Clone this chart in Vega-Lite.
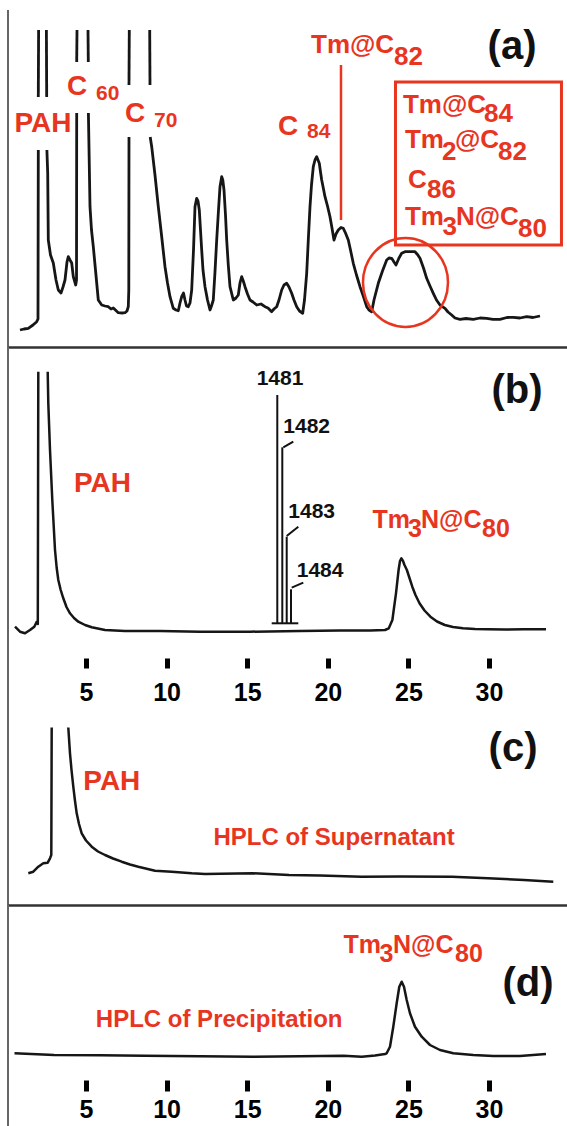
{
"$schema": "https://vega.github.io/schema/vega-lite/v6.json",
"padding": {"left": 7, "top": 9, "right": 0, "bottom": 0},
"spacing": 0,
"bounds": "flush",
"background": "white",
"config": {"view": {"stroke": null}, "axis": {"grid": false}},
"datasets": {
"a_trace": [
{"seg":1,"t":0.906,"v":17},{"seg":1,"t":1.154,"v":18},{"seg":1,"t":1.421,"v":18.7},{"seg":1,"t":1.712,"v":22},{"seg":1,"t":1.942,"v":25.3},{"seg":1,"t":2.022,"v":28},{"seg":1,"t":2.041,"v":197},
{"seg":2,"t":2.041,"v":250},{"seg":2,"t":2.060,"v":317},
{"seg":3,"t":2.543,"v":317},{"seg":3,"t":2.562,"v":250},
{"seg":4,"t":2.574,"v":197},{"seg":4,"t":2.624,"v":174},{"seg":4,"t":2.661,"v":107},{"seg":4,"t":2.798,"v":92},{"seg":4,"t":2.971,"v":84},{"seg":4,"t":3.139,"v":67},{"seg":4,"t":3.282,"v":57},{"seg":4,"t":3.449,"v":54},{"seg":4,"t":3.573,"v":60},{"seg":4,"t":3.697,"v":67},{"seg":4,"t":3.821,"v":85},{"seg":4,"t":3.902,"v":90.3},{"seg":4,"t":4.007,"v":87},{"seg":4,"t":4.113,"v":84},{"seg":4,"t":4.212,"v":70.3},{"seg":4,"t":4.361,"v":62},{"seg":4,"t":4.411,"v":67},{"seg":4,"t":4.423,"v":234},
{"seg":5,"t":4.423,"v":285},{"seg":5,"t":4.442,"v":317},
{"seg":6,"t":5.124,"v":317},{"seg":6,"t":5.143,"v":285},
{"seg":7,"t":5.149,"v":234},{"seg":7,"t":5.248,"v":140.3},{"seg":7,"t":5.341,"v":117},{"seg":7,"t":5.453,"v":100.3},{"seg":7,"t":5.589,"v":77},{"seg":7,"t":5.763,"v":47},{"seg":7,"t":5.974,"v":42},{"seg":7,"t":6.179,"v":41},{"seg":7,"t":6.383,"v":40.3},{"seg":7,"t":6.551,"v":38},{"seg":7,"t":6.694,"v":39},{"seg":7,"t":7.004,"v":34.3},{"seg":7,"t":7.233,"v":34},{"seg":7,"t":7.419,"v":34.3},{"seg":7,"t":7.543,"v":36},{"seg":7,"t":7.624,"v":40.3},{"seg":7,"t":7.655,"v":57},{"seg":7,"t":7.667,"v":210},
{"seg":8,"t":7.667,"v":262},{"seg":8,"t":7.686,"v":317},
{"seg":9,"t":8.952,"v":317},{"seg":9,"t":8.970,"v":262},
{"seg":10,"t":8.983,"v":210},{"seg":10,"t":9.076,"v":200.3},{"seg":10,"t":9.280,"v":172},{"seg":10,"t":9.485,"v":140.3},{"seg":10,"t":9.684,"v":112},{"seg":10,"t":9.901,"v":80.3},{"seg":10,"t":10.056,"v":64},{"seg":10,"t":10.211,"v":50.3},{"seg":10,"t":10.415,"v":38.7},{"seg":10,"t":10.583,"v":37},{"seg":10,"t":10.726,"v":36.3},{"seg":10,"t":10.831,"v":44},{"seg":10,"t":10.937,"v":50.3},{"seg":10,"t":11.048,"v":54},{"seg":10,"t":11.141,"v":47},{"seg":10,"t":11.234,"v":41},{"seg":10,"t":11.346,"v":40.3},{"seg":10,"t":11.452,"v":44},{"seg":10,"t":11.557,"v":57},{"seg":10,"t":11.669,"v":97},{"seg":10,"t":11.762,"v":140.3},{"seg":10,"t":11.867,"v":148.7},{"seg":10,"t":11.948,"v":146},{"seg":10,"t":12.029,"v":137},{"seg":10,"t":12.103,"v":117},{"seg":10,"t":12.177,"v":97},{"seg":10,"t":12.258,"v":77},{"seg":10,"t":12.382,"v":60.3},{"seg":10,"t":12.538,"v":47},{"seg":10,"t":12.692,"v":37},{"seg":10,"t":12.785,"v":41},{"seg":10,"t":12.897,"v":47},{"seg":10,"t":13.002,"v":75},{"seg":10,"t":13.108,"v":107},{"seg":10,"t":13.220,"v":137},{"seg":10,"t":13.313,"v":160.3},{"seg":10,"t":13.418,"v":170.3},{"seg":10,"t":13.486,"v":167},{"seg":10,"t":13.561,"v":157},{"seg":10,"t":13.654,"v":132},{"seg":10,"t":13.728,"v":107},{"seg":10,"t":13.827,"v":82},{"seg":10,"t":13.933,"v":60.3},{"seg":10,"t":14.138,"v":47},{"seg":10,"t":14.306,"v":49},{"seg":10,"t":14.449,"v":52},{"seg":10,"t":14.553,"v":64},{"seg":10,"t":14.659,"v":70.3},{"seg":10,"t":14.758,"v":66},{"seg":10,"t":14.864,"v":60.3},{"seg":10,"t":15.019,"v":53},{"seg":10,"t":15.174,"v":47},{"seg":10,"t":15.360,"v":45},{"seg":10,"t":15.589,"v":42},{"seg":10,"t":15.856,"v":43},{"seg":10,"t":16.104,"v":40.3},{"seg":10,"t":16.290,"v":39},{"seg":10,"t":16.520,"v":35.3},{"seg":10,"t":16.662,"v":38},{"seg":10,"t":16.830,"v":40.3},{"seg":10,"t":16.973,"v":47},{"seg":10,"t":17.140,"v":57},{"seg":10,"t":17.283,"v":62},{"seg":10,"t":17.450,"v":63.7},{"seg":10,"t":17.593,"v":60},{"seg":10,"t":17.760,"v":53.7},{"seg":10,"t":17.903,"v":47},{"seg":10,"t":18.071,"v":40.3},{"seg":10,"t":18.244,"v":36},{"seg":10,"t":18.443,"v":33.7},{"seg":10,"t":18.555,"v":47},{"seg":10,"t":18.691,"v":73.7},{"seg":10,"t":18.791,"v":107},{"seg":10,"t":18.896,"v":140.3},{"seg":10,"t":18.989,"v":162},{"seg":10,"t":19.101,"v":180.3},{"seg":10,"t":19.206,"v":187},{"seg":10,"t":19.312,"v":190.3},{"seg":10,"t":19.392,"v":187},{"seg":10,"t":19.473,"v":183.7},{"seg":10,"t":19.548,"v":175},{"seg":10,"t":19.622,"v":167},{"seg":10,"t":19.721,"v":159},{"seg":10,"t":19.826,"v":150.3},{"seg":10,"t":19.981,"v":141},{"seg":10,"t":20.136,"v":130.3},{"seg":10,"t":20.260,"v":119},{"seg":10,"t":20.385,"v":107},{"seg":10,"t":20.509,"v":113},{"seg":10,"t":20.651,"v":117},{"seg":10,"t":20.819,"v":119.5},{"seg":10,"t":20.961,"v":118.7},{"seg":10,"t":21.098,"v":114},{"seg":10,"t":21.272,"v":107},{"seg":10,"t":21.408,"v":97},{"seg":10,"t":21.582,"v":83.7},{"seg":10,"t":21.780,"v":72},{"seg":10,"t":21.998,"v":60.3},{"seg":10,"t":22.202,"v":51},{"seg":10,"t":22.413,"v":40.3},{"seg":10,"t":22.556,"v":37},{"seg":10,"t":22.723,"v":35.3},{"seg":10,"t":22.866,"v":47},{"seg":10,"t":23.133,"v":63.7},{"seg":10,"t":23.393,"v":76},{"seg":10,"t":23.654,"v":87},{"seg":10,"t":23.796,"v":89},{"seg":10,"t":23.964,"v":88.7},{"seg":10,"t":24.107,"v":85},{"seg":10,"t":24.231,"v":82},{"seg":10,"t":24.417,"v":89},{"seg":10,"t":24.584,"v":93.7},{"seg":10,"t":24.789,"v":95.3},{"seg":10,"t":25.099,"v":95.3},{"seg":10,"t":25.409,"v":95.3},{"seg":10,"t":25.564,"v":92.5},{"seg":10,"t":25.720,"v":88.7},{"seg":10,"t":25.937,"v":79},{"seg":10,"t":26.135,"v":68.7},{"seg":10,"t":26.340,"v":61},{"seg":10,"t":26.545,"v":53.7},{"seg":10,"t":26.743,"v":47},{"seg":10,"t":26.960,"v":42},{"seg":10,"t":27.271,"v":38.7},{"seg":10,"t":27.457,"v":35},{"seg":10,"t":27.686,"v":32},{"seg":10,"t":27.891,"v":29},{"seg":10,"t":28.201,"v":27.7},{"seg":10,"t":28.573,"v":28.5},{"seg":10,"t":29.026,"v":27.7},{"seg":10,"t":29.442,"v":29},{"seg":10,"t":29.857,"v":28.7},{"seg":10,"t":30.248,"v":27.7},{"seg":10,"t":30.682,"v":27.7},{"seg":10,"t":31.117,"v":29.5},{"seg":10,"t":31.507,"v":29.7},{"seg":10,"t":31.923,"v":29},{"seg":10,"t":32.339,"v":30.3},{"seg":10,"t":32.730,"v":29.5},{"seg":10,"t":33.164,"v":31}
],
"b_trace": [
{"seg":1,"t":0.596,"v":83.3},{"seg":1,"t":0.906,"v":78.3},{"seg":1,"t":1.216,"v":76.7},{"seg":1,"t":1.526,"v":80},{"seg":1,"t":1.793,"v":83.3},{"seg":1,"t":1.942,"v":88.3},{"seg":1,"t":2.010,"v":86},{"seg":1,"t":2.041,"v":338.3},
{"seg":2,"t":2.624,"v":338.3},{"seg":2,"t":2.661,"v":306.7},{"seg":2,"t":2.767,"v":260},{"seg":2,"t":2.909,"v":210},{"seg":2,"t":3.077,"v":160},{"seg":2,"t":3.182,"v":142},{"seg":2,"t":3.282,"v":130},{"seg":2,"t":3.431,"v":120},{"seg":2,"t":3.592,"v":111.7},{"seg":2,"t":3.790,"v":103},{"seg":2,"t":4.007,"v":96.7},{"seg":2,"t":4.256,"v":92},{"seg":2,"t":4.522,"v":88.3},{"seg":2,"t":4.938,"v":85},{"seg":2,"t":5.354,"v":82.7},{"seg":2,"t":6.179,"v":80},{"seg":2,"t":7.419,"v":79},{"seg":2,"t":9.591,"v":79},{"seg":2,"t":12.072,"v":78.3},{"seg":2,"t":15.174,"v":78.3},{"seg":2,"t":18.275,"v":79},{"seg":2,"t":20.757,"v":79.5},{"seg":2,"t":22.618,"v":79.5},{"seg":2,"t":23.548,"v":80},{"seg":2,"t":23.784,"v":81.7},{"seg":2,"t":24.007,"v":90},{"seg":2,"t":24.107,"v":102},{"seg":2,"t":24.231,"v":116.7},{"seg":2,"t":24.392,"v":140},{"seg":2,"t":24.479,"v":149},{"seg":2,"t":24.566,"v":151.7},{"seg":2,"t":24.665,"v":149},{"seg":2,"t":24.758,"v":145},{"seg":2,"t":24.907,"v":140},{"seg":2,"t":25.068,"v":132},{"seg":2,"t":25.242,"v":123.3},{"seg":2,"t":25.440,"v":115},{"seg":2,"t":25.689,"v":106.7},{"seg":2,"t":26.000,"v":99.5},{"seg":2,"t":26.365,"v":93.3},{"seg":2,"t":26.774,"v":88.5},{"seg":2,"t":27.258,"v":85},{"seg":2,"t":27.767,"v":83},{"seg":2,"t":28.387,"v":81.7},{"seg":2,"t":29.132,"v":81},{"seg":2,"t":29.938,"v":80.7},{"seg":2,"t":30.993,"v":80.5},{"seg":2,"t":32.171,"v":80.7},{"seg":2,"t":33.536,"v":80.7}
],
"c_trace": [
{"seg":1,"t":1.421,"v":31.7},{"seg":1,"t":1.731,"v":33.3},{"seg":1,"t":2.041,"v":38.3},{"seg":1,"t":2.351,"v":41.7},{"seg":1,"t":2.624,"v":42.3},{"seg":1,"t":2.767,"v":46.7},{"seg":1,"t":2.847,"v":50},{"seg":1,"t":2.872,"v":177.5},
{"seg":2,"t":3.902,"v":177.5},{"seg":2,"t":4.007,"v":151.7},{"seg":2,"t":4.101,"v":135},{"seg":2,"t":4.212,"v":118.3},{"seg":2,"t":4.318,"v":104},{"seg":2,"t":4.423,"v":91.7},{"seg":2,"t":4.566,"v":81},{"seg":2,"t":4.733,"v":71.7},{"seg":2,"t":5.000,"v":64.5},{"seg":2,"t":5.354,"v":58.3},{"seg":2,"t":5.744,"v":53.5},{"seg":2,"t":6.179,"v":50},{"seg":2,"t":6.675,"v":46.5},{"seg":2,"t":7.215,"v":43.3},{"seg":2,"t":7.730,"v":40.5},{"seg":2,"t":8.244,"v":38.3},{"seg":2,"t":9.280,"v":34.3},{"seg":2,"t":10.316,"v":33.3},{"seg":2,"t":11.557,"v":31.7},{"seg":2,"t":12.382,"v":31},{"seg":2,"t":15.360,"v":31.7},{"seg":2,"t":17.593,"v":30},{"seg":2,"t":19.516,"v":29.5},{"seg":2,"t":22.103,"v":28.3},{"seg":2,"t":24.479,"v":28.5},{"seg":2,"t":27.705,"v":28.3},{"seg":2,"t":29.938,"v":26.7},{"seg":2,"t":32.171,"v":25},{"seg":2,"t":33.989,"v":23.3}
],
"d_trace": [
{"t":0.565,"v":72.7},{"t":3.015,"v":71},{"t":5.868,"v":70.7},{"t":8.641,"v":70.3},{"t":12.072,"v":69.7},{"t":15.360,"v":69.3},{"t":18.275,"v":69.7},{"t":20.980,"v":70.3},{"t":22.103,"v":69.3},{"t":22.928,"v":70.5},{"t":23.548,"v":72},{"t":23.654,"v":72.7},{"t":23.859,"v":79.3},{"t":24.063,"v":99.3},{"t":24.274,"v":122.7},{"t":24.436,"v":139.3},{"t":24.584,"v":144.3},{"t":24.727,"v":139.3},{"t":24.895,"v":126},{"t":25.099,"v":112.7},{"t":25.409,"v":99.3},{"t":25.825,"v":89.3},{"t":26.340,"v":81},{"t":26.960,"v":76},{"t":27.786,"v":72.7},{"t":29.026,"v":71},{"t":30.267,"v":70},{"t":31.923,"v":70},{"t":33.536,"v":72}
],
"a_annot": [
{"kind":"line","t":20.819,"t2":20.819,"v":127,"v2":282},
{"kind":"box","t":24.2,"t2":34.497,"v":102,"v2":265},
{"kind":"ring","t":24.82,"t2":24.82,"v":64.5,"v2":64.5}
],
"ms_lines": [
{"t":16.867,"t2":16.867,"v":86.7,"v2":315},
{"t":17.178,"t2":17.178,"v":86.7,"v2":262.7},
{"t":17.451,"t2":17.451,"v":86.7,"v2":173.3},
{"t":17.718,"t2":17.718,"v":86.7,"v2":120.7},
{"t":16.520,"t2":18.170,"v":86.7,"v2":86.7},
{"t":17.240,"t2":17.860,"v":262.7,"v2":268.3},
{"t":17.451,"t2":18.170,"v":174,"v2":183.3},
{"t":17.761,"t2":18.480,"v":122.3,"v2":127.3}
],
"labels": [
{"panel":"a","role":"tag","text":"(a)","t":31.43,"v":300},
{"panel":"a","role":"compound","text":"PAH","t":0.565,"v":215},
{"panel":"a","role":"compound","text":"C","t":3.821,"v":252},
{"panel":"a","role":"index","text":"60","t":5.620,"v":247},
{"panel":"a","role":"compound","text":"C","t":7.419,"v":225},
{"panel":"a","role":"index","text":"70","t":9.218,"v":220},
{"panel":"a","role":"compound","text":"C","t":16.911,"v":212},
{"panel":"a","role":"index","text":"84","t":18.710,"v":209},
{"panel":"a","role":"formula","text":"Tm@C","t":18.958,"v":294},
{"panel":"a","role":"formula","text":"82","t":24.107,"v":282},
{"panel":"a","role":"formula","text":"Tm@C","t":24.665,"v":234},
{"panel":"a","role":"formula","text":"84","t":29.690,"v":225.3},
{"panel":"a","role":"formula","text":"Tm","t":24.789,"v":199},
{"panel":"a","role":"formula","text":"2","t":27.084,"v":187},
{"panel":"a","role":"formula","text":"@C","t":27.891,"v":199},
{"panel":"a","role":"formula","text":"82","t":30.558,"v":187},
{"panel":"a","role":"formula","text":"C","t":24.975,"v":159},
{"panel":"a","role":"formula","text":"86","t":26.154,"v":149},
{"panel":"a","role":"formula","text":"Tm","t":24.789,"v":122},
{"panel":"a","role":"formula","text":"3","t":27.115,"v":112},
{"panel":"a","role":"formula","text":"N@C","t":27.952,"v":122},
{"panel":"a","role":"formula","text":"80","t":31.799,"v":110},
{"panel":"b","role":"tag","text":"(b)","t":31.74,"v":319},
{"panel":"b","role":"compound","text":"PAH","t":4.256,"v":218},
{"panel":"b","role":"formula","text":"Tm","t":22.773,"v":181.7},
{"panel":"b","role":"formula","text":"3","t":24.975,"v":173.3},
{"panel":"b","role":"formula","text":"N@C","t":25.781,"v":181.7},
{"panel":"b","role":"formula","text":"80","t":29.566,"v":173.3},
{"panel":"b","role":"mz","text":"1481","t":15.589,"v":325},
{"panel":"b","role":"mz","text":"1482","t":17.240,"v":276.7},
{"panel":"b","role":"mz","text":"1483","t":17.550,"v":191.7},
{"panel":"b","role":"mz","text":"1484","t":18.071,"v":133.3},
{"panel":"c","role":"tag","text":"(c)","t":31.49,"v":156},
{"panel":"c","role":"compound","text":"PAH","t":4.832,"v":115},
{"panel":"c","role":"caption","text":"HPLC of Supernatant","t":12.903,"v":60},
{"panel":"d","role":"tag","text":"(d)","t":32.42,"v":142},
{"panel":"d","role":"formula","text":"Tm","t":20.980,"v":172.7},
{"panel":"d","role":"formula","text":"3","t":23.207,"v":164.3},
{"panel":"d","role":"formula","text":"N@C","t":24.045,"v":172.7},
{"panel":"d","role":"formula","text":"80","t":27.891,"v":164.3},
{"panel":"d","role":"caption","text":"HPLC of Precipitation","t":5.608,"v":99}
]
},
"vconcat": [
{
"width": 559, "height": 337,
"layer": [
{"data": {"name": "a_trace"}, "mark": {"type": "line", "color": "#161616", "strokeWidth": 2.8, "strokeJoin": "round"},
 "encoding": {
  "x": {"field": "t", "type": "quantitative", "scale": {"domain": [0.161, 34.84], "nice": false, "zero": false}, "axis": {"orient": "top", "domain": true, "domainColor": "#333", "domainWidth": 2.5, "ticks": false, "labels": false, "title": null}},
  "y": {"field": "v", "type": "quantitative", "scale": {"domain": [0, 337], "nice": false, "zero": false}, "axis": null},
  "detail": {"field": "seg", "type": "nominal"}}},
{"data": {"values": [{}]}, "mark": {"type": "rule", "color": "#666", "strokeWidth": 2},
 "encoding": {"x": {"datum": 0.161, "type": "quantitative", "scale": {"domain": [0.161, 34.84], "nice": false, "zero": false}, "axis": null}}},
{"data": {"name": "a_annot"}, "transform": [{"filter": "datum.kind === 'line'"}], "mark": {"type": "rule", "color": "#e8351f", "strokeWidth": 2.5},
 "encoding": {
  "x": {"field": "t", "type": "quantitative", "scale": {"domain": [0.161, 34.84], "nice": false, "zero": false}, "axis": null},
  "y": {"field": "v", "type": "quantitative", "scale": {"domain": [0, 337], "nice": false, "zero": false}, "axis": null},
  "y2": {"field": "v2"}}},
{"data": {"name": "a_annot"}, "transform": [{"filter": "datum.kind === 'box'"}], "mark": {"type": "rect", "fillOpacity": 0, "stroke": "#e8351f", "strokeWidth": 3},
 "encoding": {
  "x": {"field": "t", "type": "quantitative", "scale": {"domain": [0.161, 34.84], "nice": false, "zero": false}, "axis": null},
  "x2": {"field": "t2"},
  "y": {"field": "v", "type": "quantitative", "scale": {"domain": [0, 337], "nice": false, "zero": false}, "axis": null},
  "y2": {"field": "v2"}}},
{"data": {"name": "a_annot"}, "transform": [{"filter": "datum.kind === 'ring'"}], "mark": {"type": "point", "shape": "M -0.955 0 A 0.955 1 0 1 0 0.955 0 A 0.955 1 0 1 0 -0.955 0 Z", "size": 7921, "filled": false, "color": "#e8351f", "strokeWidth": 2.5, "opacity": 1},
 "encoding": {
  "x": {"field": "t", "type": "quantitative", "scale": {"domain": [0.161, 34.84], "nice": false, "zero": false}, "axis": null},
  "y": {"field": "v", "type": "quantitative", "scale": {"domain": [0, 337], "nice": false, "zero": false}, "axis": null}}},
{"data": {"name": "labels"}, "transform": [{"filter": "datum.panel === 'a' && datum.role === 'tag'"}], "mark": {"type": "text", "align": "center", "baseline": "middle", "font": "Liberation Sans", "fontWeight": "bold", "fontSize": 40, "color": "#111"},
 "encoding": {
  "x": {"field": "t", "type": "quantitative", "scale": {"domain": [0.161, 34.84], "nice": false, "zero": false}, "axis": null},
  "y": {"field": "v", "type": "quantitative", "scale": {"domain": [0, 337], "nice": false, "zero": false}, "axis": null},
  "text": {"field": "text"}}},
{"data": {"name": "labels"}, "transform": [{"filter": "datum.panel === 'a' && datum.role === 'compound'"}], "mark": {"type": "text", "align": "left", "baseline": "alphabetic", "font": "Liberation Sans", "fontWeight": "bold", "fontSize": 28, "color": "#e8351f"},
 "encoding": {
  "x": {"field": "t", "type": "quantitative", "scale": {"domain": [0.161, 34.84], "nice": false, "zero": false}, "axis": null},
  "y": {"field": "v", "type": "quantitative", "scale": {"domain": [0, 337], "nice": false, "zero": false}, "axis": null},
  "text": {"field": "text"}}},
{"data": {"name": "labels"}, "transform": [{"filter": "datum.panel === 'a' && datum.role === 'index'"}], "mark": {"type": "text", "align": "left", "baseline": "alphabetic", "font": "Liberation Sans", "fontWeight": "bold", "fontSize": 21, "letterSpacing": 1.5, "color": "#e8351f"},
 "encoding": {
  "x": {"field": "t", "type": "quantitative", "scale": {"domain": [0.161, 34.84], "nice": false, "zero": false}, "axis": null},
  "y": {"field": "v", "type": "quantitative", "scale": {"domain": [0, 337], "nice": false, "zero": false}, "axis": null},
  "text": {"field": "text"}}},
{"data": {"name": "labels"}, "transform": [{"filter": "datum.panel === 'a' && datum.role === 'formula'"}], "mark": {"type": "text", "align": "left", "baseline": "alphabetic", "font": "Liberation Sans", "fontWeight": "bold", "fontSize": 26, "letterSpacing": -1, "color": "#e8351f"},
 "encoding": {
  "x": {"field": "t", "type": "quantitative", "scale": {"domain": [0.161, 34.84], "nice": false, "zero": false}, "axis": null},
  "y": {"field": "v", "type": "quantitative", "scale": {"domain": [0, 337], "nice": false, "zero": false}, "axis": null},
  "text": {"field": "text"}}}
]
},
{
"width": 559, "height": 363,
"resolve": {"axis": {"x": "independent"}},
"layer": [
{"data": {"name": "b_trace"}, "mark": {"type": "line", "color": "#161616", "strokeWidth": 2.5, "strokeJoin": "round"},
 "encoding": {
  "x": {"field": "t", "type": "quantitative", "scale": {"domain": [0.161, 34.84], "nice": false, "zero": false}, "axis": {"orient": "top", "domain": true, "domainColor": "#333", "domainWidth": 2.5, "ticks": false, "labels": false, "title": null}},
  "y": {"field": "v", "type": "quantitative", "scale": {"domain": [0, 363], "nice": false, "zero": false}, "axis": null},
  "detail": {"field": "seg", "type": "nominal"}}},
{"data": {"values": [{}]}, "mark": {"type": "rule", "color": "#666", "strokeWidth": 2},
 "encoding": {"x": {"datum": 0.161, "type": "quantitative", "scale": {"domain": [0.161, 34.84], "nice": false, "zero": false}, "axis": null}}},
{"data": {"name": "ms_lines"}, "mark": {"type": "rule", "color": "#111", "strokeWidth": 2},
 "encoding": {
  "x": {"field": "t", "type": "quantitative", "scale": {"domain": [0.161, 34.84], "nice": false, "zero": false}, "axis": {"orient": "bottom", "offset": -52, "values": [5, 10, 15, 20, 25, 30], "domain": false, "ticks": true, "tickColor": "#000", "tickWidth": 5, "tickSize": 10, "labels": true, "labelFont": "Liberation Sans", "labelFontWeight": "bold", "labelFontSize": 25, "labelColor": "#000", "labelPadding": 12, "labelFlush": false, "labelOverlap": false, "title": null}},
  "x2": {"field": "t2"},
  "y": {"field": "v", "type": "quantitative", "scale": {"domain": [0, 363], "nice": false, "zero": false}, "axis": null},
  "y2": {"field": "v2"}}},
{"data": {"name": "labels"}, "transform": [{"filter": "datum.panel === 'b' && datum.role === 'tag'"}], "mark": {"type": "text", "align": "center", "baseline": "middle", "font": "Liberation Sans", "fontWeight": "bold", "fontSize": 40, "color": "#111"},
 "encoding": {
  "x": {"field": "t", "type": "quantitative", "scale": {"domain": [0.161, 34.84], "nice": false, "zero": false}, "axis": null},
  "y": {"field": "v", "type": "quantitative", "scale": {"domain": [0, 363], "nice": false, "zero": false}, "axis": null},
  "text": {"field": "text"}}},
{"data": {"name": "labels"}, "transform": [{"filter": "datum.panel === 'b' && datum.role === 'compound'"}], "mark": {"type": "text", "align": "left", "baseline": "alphabetic", "font": "Liberation Sans", "fontWeight": "bold", "fontSize": 28, "color": "#e8351f"},
 "encoding": {
  "x": {"field": "t", "type": "quantitative", "scale": {"domain": [0.161, 34.84], "nice": false, "zero": false}, "axis": null},
  "y": {"field": "v", "type": "quantitative", "scale": {"domain": [0, 363], "nice": false, "zero": false}, "axis": null},
  "text": {"field": "text"}}},
{"data": {"name": "labels"}, "transform": [{"filter": "datum.panel === 'b' && datum.role === 'formula'"}], "mark": {"type": "text", "align": "left", "baseline": "alphabetic", "font": "Liberation Sans", "fontWeight": "bold", "fontSize": 25, "letterSpacing": -1, "color": "#e8351f"},
 "encoding": {
  "x": {"field": "t", "type": "quantitative", "scale": {"domain": [0.161, 34.84], "nice": false, "zero": false}, "axis": null},
  "y": {"field": "v", "type": "quantitative", "scale": {"domain": [0, 363], "nice": false, "zero": false}, "axis": null},
  "text": {"field": "text"}}},
{"data": {"name": "labels"}, "transform": [{"filter": "datum.panel === 'b' && datum.role === 'mz'"}], "mark": {"type": "text", "align": "left", "baseline": "alphabetic", "font": "Liberation Sans", "fontWeight": "bold", "fontSize": 21, "color": "#111"},
 "encoding": {
  "x": {"field": "t", "type": "quantitative", "scale": {"domain": [0.161, 34.84], "nice": false, "zero": false}, "axis": null},
  "y": {"field": "v", "type": "quantitative", "scale": {"domain": [0, 363], "nice": false, "zero": false}, "axis": null},
  "text": {"field": "text"}}}
]
},
{
"width": 559, "height": 195,
"layer": [
{"data": {"name": "c_trace"}, "mark": {"type": "line", "color": "#161616", "strokeWidth": 2.5, "strokeJoin": "round"},
 "encoding": {
  "x": {"field": "t", "type": "quantitative", "scale": {"domain": [0.161, 34.84], "nice": false, "zero": false}, "axis": {"orient": "top", "domain": true, "domainColor": "#333", "domainWidth": 2.5, "ticks": false, "labels": false, "title": null}},
  "y": {"field": "v", "type": "quantitative", "scale": {"domain": [0, 195], "nice": false, "zero": false}, "axis": null},
  "detail": {"field": "seg", "type": "nominal"}}},
{"data": {"values": [{}]}, "mark": {"type": "rule", "color": "#666", "strokeWidth": 2},
 "encoding": {"x": {"datum": 0.161, "type": "quantitative", "scale": {"domain": [0.161, 34.84], "nice": false, "zero": false}, "axis": null}}},
{"data": {"name": "labels"}, "transform": [{"filter": "datum.panel === 'c' && datum.role === 'tag'"}], "mark": {"type": "text", "align": "center", "baseline": "middle", "font": "Liberation Sans", "fontWeight": "bold", "fontSize": 40, "color": "#111"},
 "encoding": {
  "x": {"field": "t", "type": "quantitative", "scale": {"domain": [0.161, 34.84], "nice": false, "zero": false}, "axis": null},
  "y": {"field": "v", "type": "quantitative", "scale": {"domain": [0, 195], "nice": false, "zero": false}, "axis": null},
  "text": {"field": "text"}}},
{"data": {"name": "labels"}, "transform": [{"filter": "datum.panel === 'c' && datum.role === 'compound'"}], "mark": {"type": "text", "align": "left", "baseline": "alphabetic", "font": "Liberation Sans", "fontWeight": "bold", "fontSize": 28, "color": "#e8351f"},
 "encoding": {
  "x": {"field": "t", "type": "quantitative", "scale": {"domain": [0.161, 34.84], "nice": false, "zero": false}, "axis": null},
  "y": {"field": "v", "type": "quantitative", "scale": {"domain": [0, 195], "nice": false, "zero": false}, "axis": null},
  "text": {"field": "text"}}},
{"data": {"name": "labels"}, "transform": [{"filter": "datum.panel === 'c' && datum.role === 'caption'"}], "mark": {"type": "text", "align": "left", "baseline": "alphabetic", "font": "Liberation Sans", "fontWeight": "bold", "fontSize": 24, "color": "#e8351f"},
 "encoding": {
  "x": {"field": "t", "type": "quantitative", "scale": {"domain": [0.161, 34.84], "nice": false, "zero": false}, "axis": null},
  "y": {"field": "v", "type": "quantitative", "scale": {"domain": [0, 195], "nice": false, "zero": false}, "axis": null},
  "text": {"field": "text"}}}
]
},
{
"width": 559, "height": 221,
"resolve": {"axis": {"x": "independent"}},
"layer": [
{"data": {"name": "d_trace"}, "mark": {"type": "line", "color": "#161616", "strokeWidth": 2.5, "strokeJoin": "round"},
 "encoding": {
  "x": {"field": "t", "type": "quantitative", "scale": {"domain": [0.161, 34.84], "nice": false, "zero": false}, "axis": {"orient": "top", "domain": true, "domainColor": "#333", "domainWidth": 2.5, "ticks": false, "labels": false, "title": null}},
  "y": {"field": "v", "type": "quantitative", "scale": {"domain": [0, 221], "nice": false, "zero": false}, "axis": null}}},
{"data": {"values": [{}]}, "mark": {"type": "rule", "color": "#666", "strokeWidth": 2},
 "encoding": {"x": {"datum": 0.161, "type": "quantitative", "scale": {"domain": [0.161, 34.84], "nice": false, "zero": false}, "axis": null}}},
{"data": {"name": "labels"}, "transform": [{"filter": "datum.panel === 'd' && datum.role === 'tag'"}], "mark": {"type": "text", "align": "center", "baseline": "middle", "font": "Liberation Sans", "fontWeight": "bold", "fontSize": 40, "color": "#111"},
 "encoding": {
  "x": {"field": "t", "type": "quantitative", "scale": {"domain": [0.161, 34.84], "nice": false, "zero": false}, "axis": {"orient": "bottom", "offset": -46, "values": [5, 10, 15, 20, 25, 30], "domain": false, "ticks": true, "tickColor": "#000", "tickWidth": 5, "tickSize": 11, "labels": true, "labelFont": "Liberation Sans", "labelFontWeight": "bold", "labelFontSize": 25, "labelColor": "#000", "labelPadding": 6, "labelFlush": false, "labelOverlap": false, "title": null}},
  "y": {"field": "v", "type": "quantitative", "scale": {"domain": [0, 221], "nice": false, "zero": false}, "axis": null},
  "text": {"field": "text"}}},
{"data": {"name": "labels"}, "transform": [{"filter": "datum.panel === 'd' && datum.role === 'formula'"}], "mark": {"type": "text", "align": "left", "baseline": "alphabetic", "font": "Liberation Sans", "fontWeight": "bold", "fontSize": 25, "letterSpacing": -1, "color": "#e8351f"},
 "encoding": {
  "x": {"field": "t", "type": "quantitative", "scale": {"domain": [0.161, 34.84], "nice": false, "zero": false}, "axis": null},
  "y": {"field": "v", "type": "quantitative", "scale": {"domain": [0, 221], "nice": false, "zero": false}, "axis": null},
  "text": {"field": "text"}}},
{"data": {"name": "labels"}, "transform": [{"filter": "datum.panel === 'd' && datum.role === 'caption'"}], "mark": {"type": "text", "align": "left", "baseline": "alphabetic", "font": "Liberation Sans", "fontWeight": "bold", "fontSize": 24, "color": "#e8351f"},
 "encoding": {
  "x": {"field": "t", "type": "quantitative", "scale": {"domain": [0.161, 34.84], "nice": false, "zero": false}, "axis": null},
  "y": {"field": "v", "type": "quantitative", "scale": {"domain": [0, 221], "nice": false, "zero": false}, "axis": null},
  "text": {"field": "text"}}}
]
}
]
}
